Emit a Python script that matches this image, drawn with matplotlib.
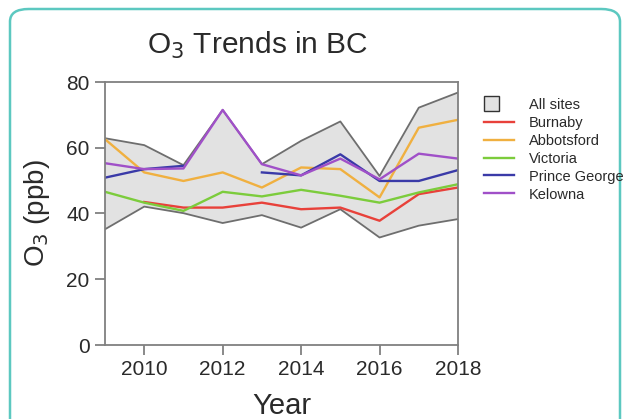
import numpy as np
import matplotlib
matplotlib.use('Agg')
from matplotlib import pyplot as plt
from matplotlib.patches import FancyBboxPatch, Patch, Rectangle
from matplotlib.lines import Line2D
from matplotlib.legend_handler import HandlerPatch

years = [2009, 2010, 2011, 2012, 2013, 2014, 2015, 2016, 2017, 2018]

all_max = [62.9, 60.8, 54.7, 71.5, 55.0, 62.1, 68.0, 51.4, 72.2, 76.8]
all_min = [35.2, 42.1, 40.1, 37.1, 39.5, 35.7, 41.3, 32.7, 36.3, 38.3]

burnaby = [np.nan, 43.5, 41.8, 41.8, 43.3, 41.3, 41.8, 37.8, 45.9, 47.9]
abbotsford = [62.6, 52.5, 49.9, 52.5, 47.9, 54.0, 53.5, 44.9, 66.1, 68.5]
victoria = [46.6, 43.3, 40.8, 46.6, 45.2, 47.2, 45.4, 43.3, 46.4, 48.9]
prince_george = [50.9, 53.5, 54.5, np.nan, 52.5, 51.6, 58.0, 49.9, 49.9, 53.2]
kelowna = [55.3, 53.5, 53.7, 71.5, 55.0, 51.6, 56.7, 50.4, 58.2, 56.7]

sites = ['Burnaby', 'Abbotsford', 'Victoria', 'Prince George', 'Kelowna']
series = [burnaby, abbotsford, victoria, prince_george, kelowna]
colors = ['#e8413a', '#f0b040', '#7ccc3c', '#3a3aa8', '#a050c8']


class SquareHandler(HandlerPatch):
    # left aligned square instead of a wide box
    def create_artists(self, legend, orig_handle, xdescent, ydescent,
                       width, height, fontsize, trans):
        s = height * 1.45
        p = Rectangle((-xdescent, -ydescent + (height - s) / 2), s, s)
        self.update_prop(p, orig_handle, legend)
        p.set_transform(trans)
        return [p]


plt.rcParams['font.family'] = ['Liberation Sans', 'DejaVu Sans']

fig = plt.figure(figsize=(6.26, 4.19), dpi=100)

# teal rounded frame
frame = FancyBboxPatch((10 / 626, -0.2), 610 / 626, 1.2 - 9 / 419,
                       boxstyle='round,pad=0,rounding_size=0.03',
                       transform=fig.transFigure, facecolor='white',
                       edgecolor='#5cc8c0', linewidth=1.8, zorder=-5)
fig.patches.append(frame)

ax = fig.add_axes([105 / 626, 1 - 345 / 419, 353 / 626, 263 / 419])
ax.set_facecolor('none')

ax.fill_between(years, all_min, all_max, facecolor='#e2e2e2', edgecolor='none')
ax.plot(years, all_max, color='#6e6e6e', lw=1.3)
ax.plot(years, all_min, color='#6e6e6e', lw=1.3)
for vals, c in zip(series, colors):
    ax.plot(years, vals, color=c, lw=1.7)

ax.set_xlim(2009, 2018)
ax.set_ylim(0, 80)
ax.set_xticks([2010, 2012, 2014, 2016, 2018])
ax.set_yticks([0, 20, 40, 60, 80])
for s in ax.spines.values():
    s.set_color('#808080')
    s.set_linewidth(1.3)
ax.tick_params(colors='#808080', labelcolor='#2a2a2a', labelsize=15, length=7, width=1.3, pad=4)

ax.set_xlabel('Year', fontsize=21, color='#2a2a2a')
ax.xaxis.set_label_coords(0.5, -0.18)
ax.set_ylabel('O$_3$ (ppb)', fontsize=20, color='#2a2a2a')
ax.yaxis.set_label_coords(-0.15, 0.5)
fig.text(258 / 626, 1 - 45 / 419, 'O$_3$ Trends in BC', fontsize=21.5,
         ha='center', va='center', color='#2a2a2a')

handles = [Patch(facecolor='#e2e2e2', edgecolor='#333333', label='All sites')]
for name, c in zip(sites, colors):
    handles.append(Line2D([], [], color=c, lw=1.7, label=name))
fig.legend(handles=handles, loc='upper left', bbox_to_anchor=(478 / 626, 1 - 92 / 419),
           frameon=False, fontsize=10.5, handlelength=2.1, handletextpad=1.0,
           labelspacing=0.27, borderaxespad=0, handler_map={Patch: SquareHandler()},
           labelcolor='#2a2a2a')

fig.savefig('out.png', dpi=100)
